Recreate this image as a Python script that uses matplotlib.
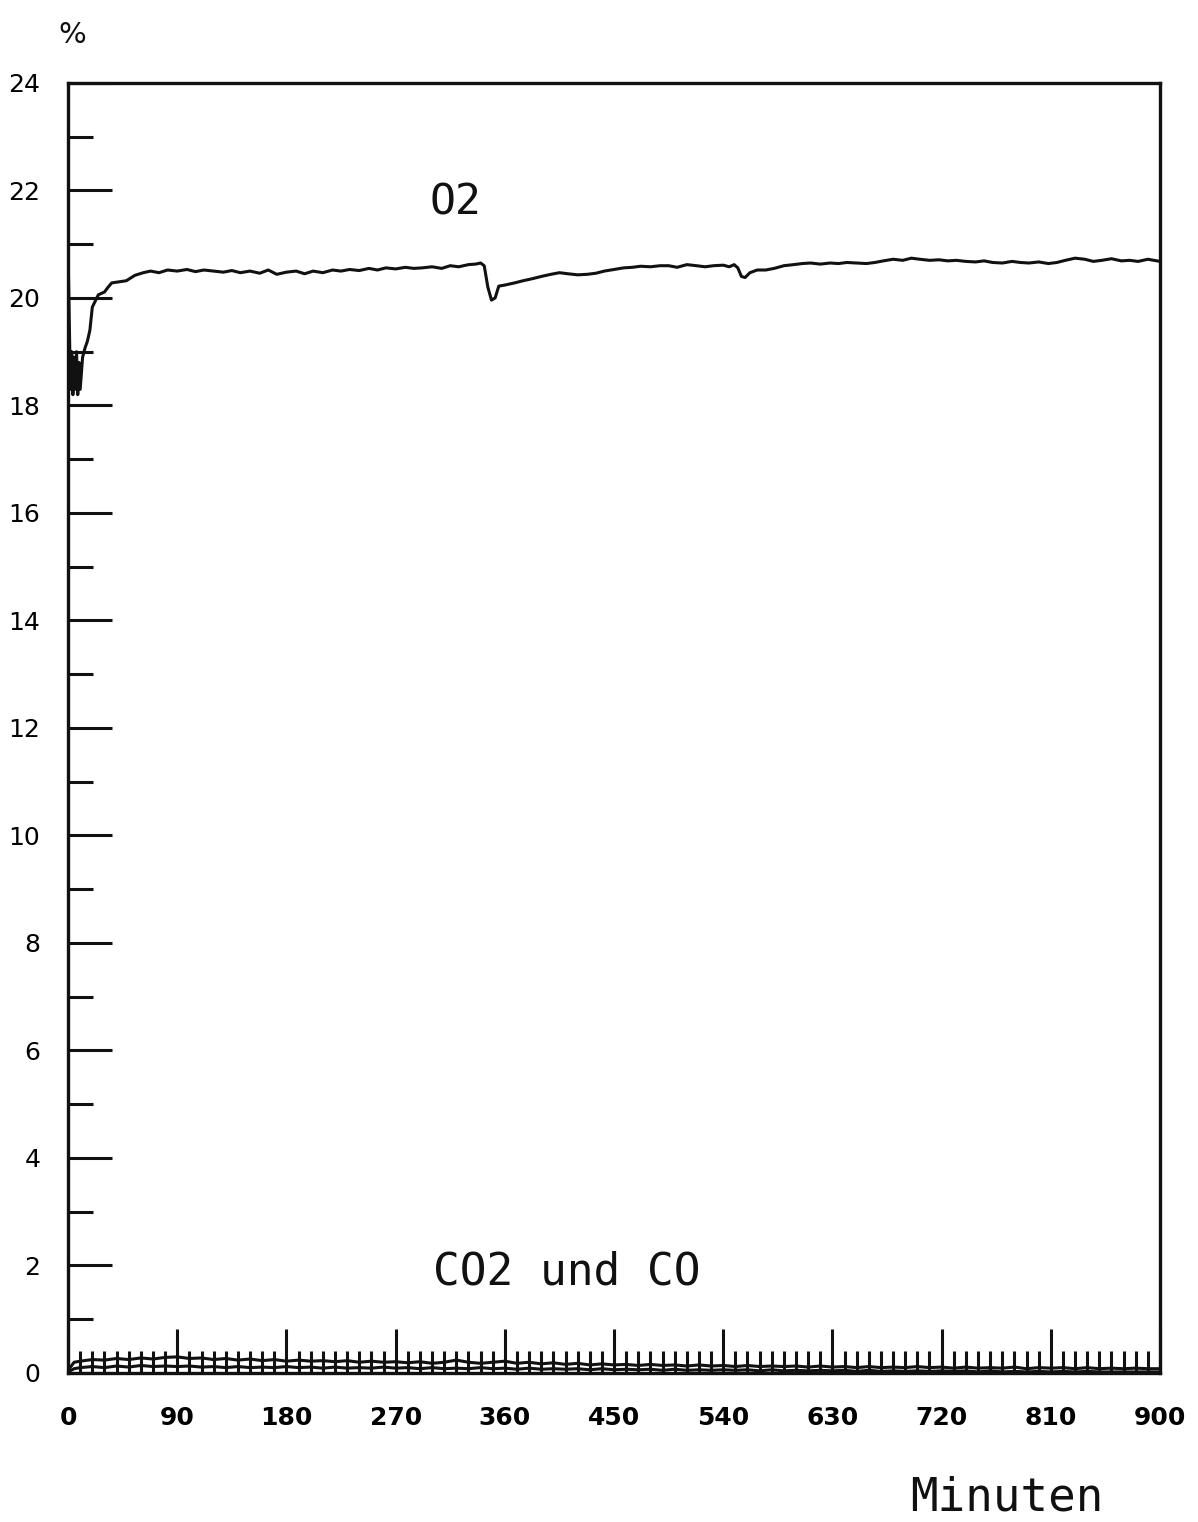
import matplotlib
matplotlib.use("Agg")
import matplotlib.pyplot as plt
import numpy as np
from matplotlib.ticker import MultipleLocator

# O2 trace (minutes, percent)
o2_min = [0, 1, 2, 3, 4, 5, 6, 7, 8, 9, 10, 12, 14, 16, 18, 20, 25, 30, 33, 36,
          42, 48, 55, 62, 68, 75, 82, 90, 98, 105, 112, 120, 128, 135, 142,
          150, 158, 165, 172, 180, 188, 195, 202, 210, 218, 225, 232, 240, 248, 255, 262,
          270, 278, 285, 292, 300, 308, 315, 322, 330, 336, 340, 343, 346, 349, 352, 355,
          360, 368, 375, 383, 390, 398, 405, 412, 420, 428, 435, 442, 450, 458, 465, 472,
          480, 488, 495, 502, 510, 518, 525, 532, 540, 545, 549, 552, 555, 558, 562, 568,
          575, 582, 590, 598, 605, 612, 620, 628, 635, 642, 650, 658, 665, 672, 680, 688,
          695, 702, 710, 718, 725, 732, 740, 748, 755, 762, 770, 778, 785, 792, 800, 808,
          815, 822, 830, 838, 845, 852, 860, 868, 875, 882, 890, 895, 900]
o2_val = [20.9, 19.6, 18.3, 19.0, 18.2, 18.9, 18.3, 19.0, 18.2, 18.8, 18.3, 18.9, 19.07, 19.2, 19.4, 19.83, 20.06, 20.11, 20.2, 20.28,
          20.3, 20.32, 20.42, 20.47, 20.5, 20.47, 20.52, 20.5, 20.53, 20.49, 20.52, 20.5, 20.48, 20.51, 20.47,
          20.5, 20.46, 20.52, 20.44, 20.48, 20.5, 20.45, 20.5, 20.47, 20.52, 20.5, 20.53, 20.51, 20.55, 20.52, 20.56,
          20.54, 20.57, 20.55, 20.56, 20.58, 20.55, 20.6, 20.58, 20.62, 20.63, 20.65, 20.6, 20.2, 19.96, 20.0, 20.22,
          20.24, 20.28, 20.32, 20.36, 20.4, 20.44, 20.47, 20.45, 20.43, 20.44, 20.46, 20.5, 20.53, 20.56, 20.57, 20.59,
          20.58, 20.6, 20.6, 20.57, 20.62, 20.6, 20.58, 20.6, 20.61, 20.58, 20.62, 20.56, 20.4, 20.38, 20.47, 20.52,
          20.52, 20.55, 20.6, 20.62, 20.64, 20.65, 20.63, 20.65, 20.64, 20.66, 20.65, 20.64, 20.66, 20.69, 20.72, 20.7,
          20.74, 20.72, 20.7, 20.71, 20.69, 20.7, 20.68, 20.67, 20.69, 20.66, 20.65, 20.68, 20.66, 20.65, 20.67, 20.64,
          20.66, 20.7, 20.74, 20.72, 20.68, 20.7, 20.73, 20.69, 20.7, 20.68, 20.72, 20.7, 20.68]

# CO2 and CO traces near zero
low_min = [0, 5, 10, 20, 30, 40, 50, 60, 70, 80,
           90, 100, 110, 120, 130, 140, 150, 160, 170, 180,
           190, 200, 210, 220, 230, 240, 250, 260, 270, 280,
           290, 300, 310, 320, 330, 340, 350, 360, 370, 380,
           390, 400, 410, 420, 430, 440, 450, 460, 470, 480,
           490, 500, 510, 520, 530, 540, 550, 560, 570, 580,
           590, 600, 610, 620, 630, 640, 650, 660, 670, 680,
           690, 700, 710, 720, 730, 740, 750, 760, 770, 780,
           790, 800, 810, 820, 830, 840, 850, 860, 870, 880,
           890, 900]
co2_val = [0.05, 0.2, 0.22, 0.25, 0.24, 0.27, 0.25, 0.28, 0.26, 0.29,
           0.3, 0.27, 0.28, 0.25, 0.27, 0.24, 0.26, 0.23, 0.25, 0.22,
           0.24, 0.22, 0.23, 0.21, 0.23, 0.2, 0.22, 0.2, 0.21, 0.19,
           0.21, 0.18, 0.2, 0.24, 0.2, 0.18, 0.2, 0.22, 0.18, 0.2,
           0.17, 0.19, 0.16, 0.18, 0.15, 0.17, 0.15, 0.16, 0.14, 0.16,
           0.14, 0.15, 0.13, 0.15, 0.13, 0.14, 0.12, 0.14, 0.12, 0.13,
           0.12, 0.13, 0.11, 0.13, 0.11, 0.12, 0.1, 0.12, 0.1, 0.11,
           0.1, 0.12, 0.1, 0.11, 0.09, 0.11, 0.09, 0.1, 0.09, 0.11,
           0.08, 0.1, 0.09, 0.1, 0.08, 0.1, 0.08, 0.09, 0.08, 0.09,
           0.08, 0.08]
co_val = [0.02, 0.08, 0.1, 0.12, 0.1, 0.13, 0.11, 0.14, 0.12, 0.13,
          0.12, 0.13, 0.11, 0.12, 0.1, 0.12, 0.1, 0.11, 0.1, 0.12,
          0.1, 0.11, 0.09, 0.11, 0.09, 0.1, 0.09, 0.11, 0.09, 0.1,
          0.08, 0.1, 0.08, 0.09, 0.08, 0.1, 0.08, 0.09, 0.07, 0.09,
          0.07, 0.08, 0.07, 0.08, 0.06, 0.08, 0.06, 0.07, 0.06, 0.07,
          0.05, 0.07, 0.05, 0.06, 0.05, 0.06, 0.05, 0.06, 0.04, 0.06,
          0.04, 0.05, 0.04, 0.05, 0.04, 0.05, 0.03, 0.05, 0.03, 0.04,
          0.03, 0.04, 0.03, 0.04, 0.03, 0.04, 0.02, 0.04, 0.02, 0.03,
          0.02, 0.03, 0.02, 0.03, 0.02, 0.03, 0.02, 0.02, 0.02, 0.02,
          0.02, 0.02]

fig = plt.figure(figsize=(11.98, 15.22), dpi=100)
ax = fig.add_axes([0.0568, 0.0979, 0.9115, 0.8476])

ink = "#111111"
ax.plot(o2_min, o2_val, color=ink, lw=2.2)
ax.plot(low_min, co2_val, color=ink, lw=2.2)
ax.plot(low_min, co_val, color=ink, lw=2.2)

ax.set_xlim(0, 900)
ax.set_ylim(0, 24)
for s in ax.spines.values():
    s.set_linewidth(2.4)
    s.set_color(ink)

ax.xaxis.set_major_locator(MultipleLocator(90))
ax.xaxis.set_minor_locator(MultipleLocator(10))
ax.yaxis.set_major_locator(MultipleLocator(2))
ax.yaxis.set_minor_locator(MultipleLocator(1))
ax.tick_params(axis="both", which="both", direction="in", color=ink, width=2.2)
ax.tick_params(axis="y", which="major", length=32, pad=20, labelsize=18)
ax.tick_params(axis="y", which="minor", length=18)
ax.tick_params(axis="x", which="major", length=32, pad=24, labelsize=18)
ax.tick_params(axis="x", which="minor", length=16)
for lab in ax.get_xticklabels():
    lab.set_fontweight("bold")

ax.text(319, 21.77, "O2", family="DejaVu Sans Mono", fontsize=31, ha="center", va="center", color=ink)
ax.text(411, 1.88, "CO2 und CO", family="DejaVu Sans Mono", fontsize=32, ha="center", va="center", color=ink)
fig.text(0.06, 0.977, "%", fontsize=21, ha="center", va="center", color=ink)
fig.text(0.84, 0.016, "Minuten", family="DejaVu Sans Mono", fontsize=33, ha="center", va="center", color=ink)

fig.savefig("out.png", dpi=100, facecolor="white")
